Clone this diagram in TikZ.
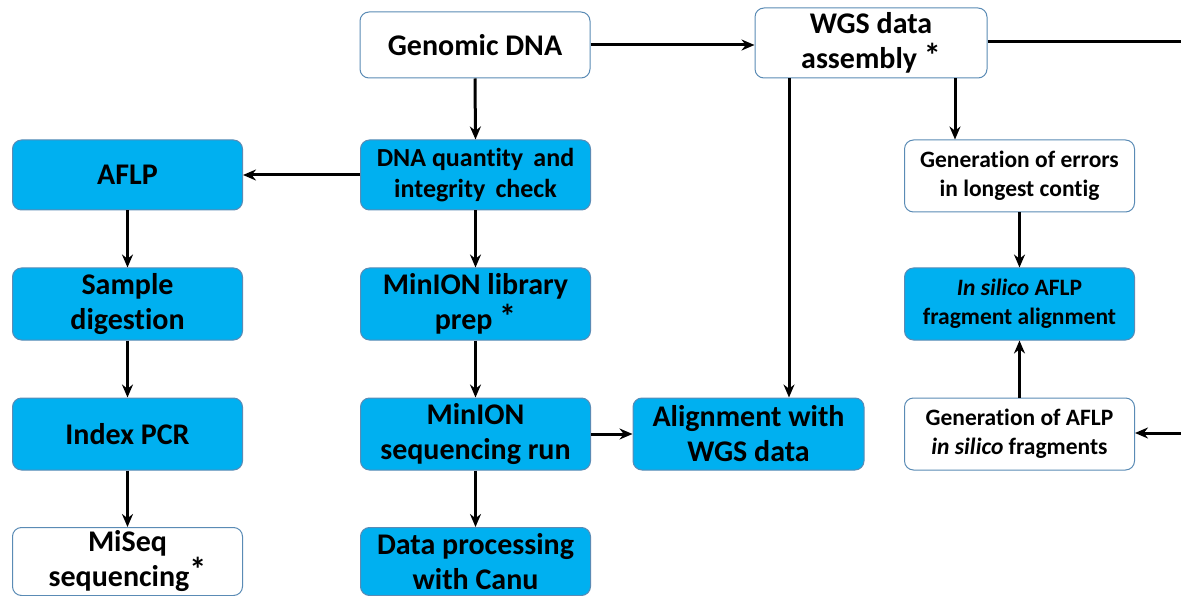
\documentclass[tikz,border=0pt]{standalone}
\usepackage{fontspec}
\setmainfont{Carlito}[Ligatures=NoCommon]
\usetikzlibrary{arrows.meta}
\definecolor{boxblue}{HTML}{00B0F0}
\definecolor{edgeblue}{HTML}{5A8BB5}
\tikzset{
  box/.style={draw=edgeblue, line width=1pt, rounded corners=9pt, minimum width=230pt, minimum height=70pt, align=center, inner sep=0pt, font=\bfseries\fontsize{30}{35}\selectfont},
  wbox/.style={box, fill=white},
  bbox/.style={box, fill=boxblue},
  smalltxt/.style={font=\bfseries\fontsize{23.5}{29}\selectfont},
  midtxt/.style={font=\bfseries\fontsize{26}{31}\selectfont},
  arr/.style={line width=3pt, -{Stealth[length=13pt,width=11pt]}},
  ln/.style={line width=3pt}
}
\begin{document}
\begin{tikzpicture}[x=1pt,y=-1pt]
\useasboundingbox (0,0) rectangle (1181,596);
\clip (0,0) rectangle (1181,596);
% nodes
\node[wbox, minimum height=66pt] (gdna) at (475,45) {Genomic DNA};
\node[wbox, minimum width=232pt] (wgs) at (871,43) {WGS data\\assembly \raisebox{1pt}{\fontsize{34}{34}\selectfont *}};
\node[bbox] (aflp) at (127.5,175) {AFLP};
\node[bbox, midtxt] (dnaq) at (475.5,175) {DNA quantity\, and\\integrity\, check};
\node[wbox, smalltxt, minimum height=72pt] (gerr) at (1019.5,176) {Generation of errors\\in longest contig};
\node[bbox, minimum height=72pt] (samp) at (127.5,304) {Sample\\digestion};
\node[bbox, minimum height=72pt] (libp) at (475.5,304) {MinION library\\prep \raisebox{1pt}{\fontsize{34}{34}\selectfont *}};
\node[bbox, smalltxt, minimum height=72pt] (insil) at (1019.5,304) {\textit{In silico} AFLP\\fragment alignment};
\node[bbox, minimum height=72pt] (ipcr) at (127.5,434) {Index PCR};
\node[bbox, minimum height=72pt] (seqrun) at (475.5,434) {MinION\\sequencing run};
\node[bbox, minimum height=72pt, minimum width=231pt] (align) at (748.5,434) {Alignment with\\WGS data};
\node[wbox, smalltxt, minimum height=72pt] (gafl) at (1019.5,434) {Generation of AFLP\\\textit{in silico} fragments};
\node[wbox, minimum height=68pt, anchor=north] (miseq) at (127.5,527) {MiSeq\\sequencing\raisebox{5pt}{\fontsize{34}{34}\selectfont *}};
\node[bbox, minimum height=68pt, anchor=north] (canu) at (475.5,527) {Data processing\\with Canu};
% free ends at the right edge
\coordinate (rtop) at (1182,42);
\coordinate (rbot) at (1182,433);
% connectors
\draw[arr] (gdna.east) -- (wgs.west |- gdna.east);
\draw[ln] (wgs.east |- rtop) -- (rtop);
\draw[arr] (rbot) -- (gafl.east |- rbot);
\draw[arr] (wgs.south -| 955,0) -- (gerr.north -| 955,0);
\draw[arr] (wgs.south -| 789,0) -- (align.north -| 789,0);
\draw[arr] (gdna.south) -- (dnaq.north);
\draw[arr] (dnaq.west) -- (aflp.east);
\draw[arr] (aflp.south) -- (samp.north);
\draw[arr] (samp.south) -- (ipcr.north);
\draw[arr] (ipcr.south) -- (miseq.north);
\draw[arr] (dnaq.south) -- (libp.north);
\draw[arr] (libp.south) -- (seqrun.north);
\draw[arr] (seqrun.south) -- (canu.north);
\draw[arr] (seqrun.east) -- (align.west);
\draw[arr] (gerr.south) -- (insil.north);
\draw[arr] (gafl.north) -- (insil.south);
\end{tikzpicture}
\end{document}
